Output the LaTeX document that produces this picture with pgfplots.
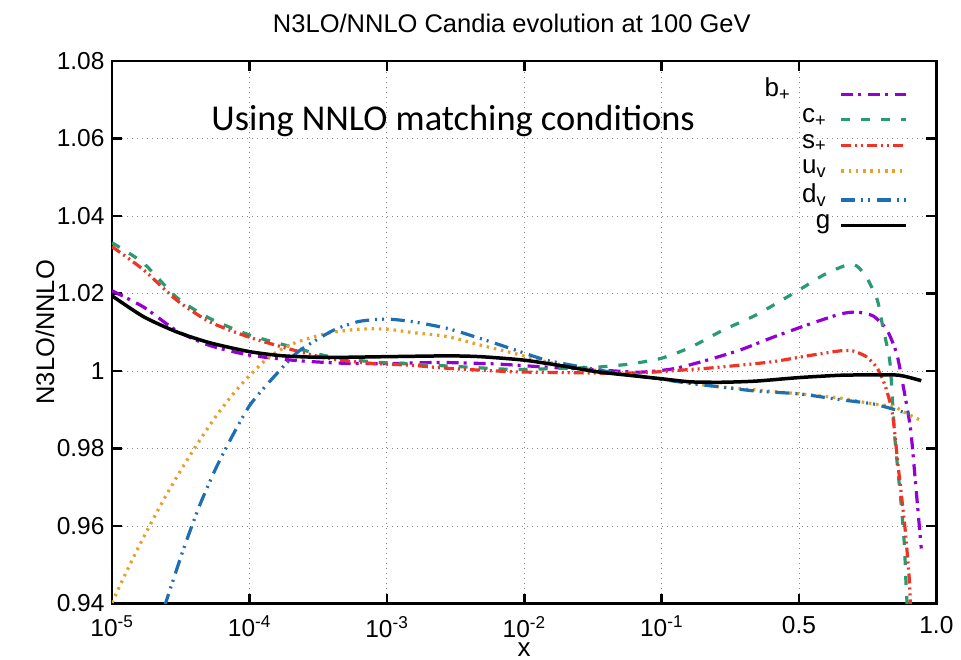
\documentclass[border=0pt]{standalone}
\usepackage{pgfplots}
\pgfplotsset{compat=1.18}
\usepackage{fontspec}
\setmainfont{Liberation Sans}
\newfontfamily\calibri{Carlito}

% line colours of the six distributions
\definecolor{cbp}{RGB}{148,0,211}
\definecolor{ccp}{RGB}{40,155,112}
\definecolor{csp}{RGB}{238,52,36}
\definecolor{cuv}{RGB}{232,160,40}
\definecolor{cdv}{RGB}{30,110,180}

% legend row: label set right-aligned left of a 65pt line sample, fixed row height
\pgfplotsset{
  lg/.style 2 args={legend image code/.code={%
    \path[draw=none, fill=none] (0pt,-12.8pt) rectangle (65pt,12.8pt);
    \draw[##1] (0pt,0pt) -- (65pt,0pt);
    \node[anchor=mid east, text=black, draw=none, fill=none, solid, inner sep=0pt,
          font=\fontsize{26}{26}\selectfont] at (#2,0pt) {#1};}},
}

% x is stored as a plotting coordinate u: u=0..4 spans 1e-5..1e-1 (log),
% u=4..5 spans 0.1..0.5 and u=5..6 spans 0.5..1.0
\begin{document}
\begin{tikzpicture}
\path[use as bounding box] (-112pt,-55.5pt) rectangle (849pt,603.5pt);
\begin{axis}[
  at={(0pt,0pt)}, anchor=south west,
  scale only axis, width=824.4pt, height=542.5pt,
  xmin=0, xmax=6, ymin=0.94, ymax=1.08,
  xtick={0,1,2,3,4,5,6},
  xticklabels={10\textsuperscript{-5},10\textsuperscript{-4},10\textsuperscript{-3},10\textsuperscript{-2},10\textsuperscript{-1},0.5,1.0},
  ytick={0.94,0.96,0.98,1,1.02,1.04,1.06,1.08},
  yticklabels={0.94,0.96,0.98,1,1.02,1.04,1.06,1.08},
  tick align=inside, major tick length=10pt,
  every tick/.style={black, line width=2.6pt},
  axis line style={line width=2.8pt},
  grid=major,
  grid style={black!45, line width=0.9pt, dash pattern=on 1pt off 4pt},
  tick label style={font=\fontsize{24.5}{28}\selectfont},
  yticklabel style={xshift=-4pt},
  xticklabel style={yshift=-9pt},
  legend plot pos=right,
  legend style={at={(0.9656,0.9685)}, anchor=north east, draw=none, fill=none,
    inner sep=0pt, outer sep=0pt, row sep=0pt, column sep=0pt,
    nodes={inner sep=0pt, outer sep=0pt}},
  clip mode=individual,
]
% b+
\addplot[cbp, line width=3.2pt, dash pattern=on 12pt off 5pt on 3pt off 7pt, smooth, tension=0.4,
  lg={b\textsubscript{+}}{-51pt}] table {
0    1.0207
0.23 1.0165
0.47 1.0104
0.71 1.0066
1.0  1.0041
1.34 1.0027
1.68 1.0020
2.0  1.0019
2.39 1.0022
2.8  1.0018
3.16 1.0010
3.53 1.0003
3.84 0.9997
4.09 1.0006
4.33 1.0028
4.57 1.0054
4.81 1.0087
5.06 1.0119
5.30 1.0147
5.42 1.0152
5.54 1.0142
5.64 1.0106
5.71 1.0046
5.75 0.9977
5.81 0.9856
5.84 0.9744
5.89 0.9542
};
\addlegendentry{\hbox{}}
% c+
\addplot[ccp, line width=3.2pt, dash pattern=on 9pt off 11pt, smooth, tension=0.4,
  lg={c\textsubscript{+}}{-15pt}] table {
0    1.0331
0.23 1.0278
0.47 1.0190
0.71 1.0136
1.0  1.0093
1.30 1.0063
1.56 1.0039
1.88 1.0024
2.17 1.0018
2.44 1.0013
2.92 1.0004
3.28 1.0007
3.53 1.0010
3.77 1.0018
4.0  1.0033
4.21 1.0061
4.45 1.0106
4.69 1.0145
5.0  1.0209
5.18 1.0248
5.35 1.0274
5.42 1.0271
5.49 1.0243
5.57 1.0183
5.61 1.0114
5.66 1.0028
5.68 0.9925
5.70 0.9817
5.743 0.9659
5.767 0.9551
5.78 0.9443
5.795 0.9350
};
\addlegendentry{\hbox{}}
% s+
\addplot[csp, line width=3.2pt, dash pattern=on 10pt off 4pt on 2pt off 4pt on 2pt off 4pt, smooth, tension=0.4,
  lg={s\textsubscript{+}}{-15pt}] table {
0    1.0321
0.23 1.0261
0.47 1.0183
0.71 1.0127
1.0  1.0087
1.30 1.0056
1.56 1.0033
1.88 1.0020
2.17 1.0015
2.44 1.0007
2.92 0.9998
3.28 0.9996
3.65 0.9994
3.89 0.9996
4.09 1.0001
4.33 1.0007
4.57 1.0015
4.81 1.0024
5.06 1.0039
5.30 1.0052
5.39 1.0052
5.49 1.0037
5.57 1.0007
5.63 0.9959
5.68 0.9890
5.72 0.9760
5.77 0.9600
5.79 0.9520
5.805 0.9450
5.815 0.9350
};
\addlegendentry{\hbox{}}
% u_v
\addplot[cuv, line width=3.2pt, dash pattern=on 2.5pt off 4.8pt, smooth, tension=0.4,
  lg={u\textsubscript{v}}{-15pt}] table {
0    0.9402
0.1  0.9478
0.2  0.9550
0.3  0.9618
0.4  0.9683
0.52 0.9755
0.64 0.9822
0.76 0.9885
0.88 0.9940
1.0  0.9988
1.15 1.0038
1.32 1.0071
1.56 1.0097
1.80 1.0108
2.0  1.0108
2.19 1.0099
2.44 1.0089
2.68 1.0067
2.92 1.0046
3.16 1.0024
3.41 1.0007
3.65 0.9996
3.89 0.9984
4.21 0.9968
4.45 0.9958
4.69 0.9951
5.0  0.9941
5.30 0.9930
5.54 0.9915
5.69 0.9908
5.78 0.9891
5.89 0.9872
};
\addlegendentry{\hbox{}}
% d_v
\addplot[cdv, line width=3.2pt, dash pattern=on 14pt off 6pt on 2pt off 5pt on 2pt off 6.7pt, smooth, tension=0.4,
  lg={d\textsubscript{v}}{-15pt}] table {
0.38 0.9390
0.52 0.9540
0.64 0.9655
0.76 0.9752
0.88 0.9835
1.0  0.9910
1.12 0.9962
1.27 1.0020
1.37 1.0054
1.61 1.0105
1.80 1.0128
2.0  1.0134
2.19 1.0127
2.44 1.0110
2.68 1.0084
2.92 1.0056
3.16 1.0028
3.41 1.0011
3.65 0.9996
3.89 0.9984
4.21 0.9968
4.45 0.9958
4.69 0.9948
5.0  0.9941
5.30 0.9926
5.54 0.9915
5.71 0.9899
5.83 0.9886
};
\addlegendentry{\hbox{}}
% g
\addplot[black, line width=3.5pt, smooth, tension=0.4,
  lg={g}{-11pt}] table {
0    1.0194
0.23 1.0140
0.47 1.0101
0.71 1.0073
1.0  1.0050
1.25 1.0039
1.56 1.0035
2.0  1.0037
2.44 1.0039
2.68 1.0037
3.0  1.0028
3.28 1.0013
3.53 0.9998
3.84 0.9986
4.0  0.9980
4.21 0.9972
4.45 0.9971
4.69 0.9974
5.0  0.9983
5.3  0.9989
5.54 0.9990
5.73 0.9989
5.89 0.9975
};
\addlegendentry{\hbox{}}
\node[anchor=base west, font=\calibri\fontsize{36.4}{40}\selectfont] at (rel axis cs:0.1164,0.871) {Using NNLO matching conditions};
\node[anchor=base, font=\fontsize{25.5}{28}\selectfont] at (rel axis cs:0.485,1.0516) {N3LO/NNLO Candia evolution at 100 GeV};
\node[rotate=90, anchor=center, font=\fontsize{25.5}{28}\selectfont] at (rel axis cs:-0.0813,0.5) {N3LO/NNLO};
\node[anchor=center, font=\fontsize{26}{28}\selectfont] at (rel axis cs:0.5,-0.0855) {x};
\end{axis}
\end{tikzpicture}
\end{document}
